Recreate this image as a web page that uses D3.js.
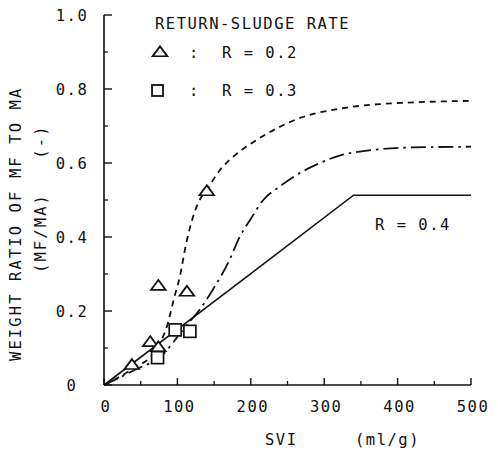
<!DOCTYPE html>
<html><head><meta charset="utf-8">
<script src="https://cdn.jsdelivr.net/npm/d3@7"></script>
<style>
body{margin:0;background:#fff;}
text{font-family:"DejaVu Sans Mono",monospace;font-size:15.5px;fill:#111;letter-spacing:1.5px;white-space:pre;}
</style></head><body>
<svg id="c" width="498" height="451"></svg>
<script>
const xTicks = [0,100,200,300,400,500];
const xMinor = [50,150,250,350,450];
const yTicks = [0,0.2,0.4,0.6,0.8,1.0];
const yTickLabels = ["0","0.2","0.4","0.6","0.8","1.0"];
const yMinor = [0.1,0.3,0.5,0.7,0.9];
const triR02 = [[38,0.052],[63,0.114],[74,0.10],[74,0.266],[113,0.25],[140,0.522]];
const sqR03 = [[73,0.074],[97,0.149],[117,0.145]];
const curveR02 = [[0,0],[40,0.045],[69,0.09],[87,0.167],[96,0.239],[103,0.29],[112,0.383],[128,0.491],[140,0.527],[158,0.581],[176,0.617],[200,0.652],[221,0.678],[266,0.721],[325,0.748],[375,0.759],[500,0.768]];
const curveR03 = [[0,0],[41,0.04],[82,0.086],[100,0.13],[111,0.158],[129,0.20],[148,0.257],[171,0.338],[185,0.401],[199,0.446],[217,0.5],[239,0.536],[266,0.572],[293,0.599],[321,0.620],[361,0.634],[420,0.642],[500,0.644]];
const curveR04 = [[0,0],[171,0.257],[340,0.513],[500,0.513]];

const svg = d3.select("#c");
const x = d3.scaleLinear().domain([0,500]).range([104,471]);
const y = d3.scaleLinear().domain([0,1]).range([385,15]);
const ink = "#111";

// axes
svg.append("line").attr("x1",x(0)).attr("x2",x(0)).attr("y1",y(1)).attr("y2",y(0)).attr("stroke",ink).attr("stroke-width",1.6);
svg.append("line").attr("x1",x(0)).attr("x2",x(500)).attr("y1",y(0)).attr("y2",y(0)).attr("stroke",ink).attr("stroke-width",1.6);
svg.selectAll(".yt").data(yTicks).join("line").attr("x1",x(0)).attr("x2",x(0)+8).attr("y1",d=>y(d)).attr("y2",d=>y(d)).attr("stroke",ink).attr("stroke-width",1.4);
svg.selectAll(".ym").data(yMinor).join("line").attr("x1",x(0)).attr("x2",x(0)+4).attr("y1",d=>y(d)).attr("y2",d=>y(d)).attr("stroke",ink).attr("stroke-width",1.3);
svg.selectAll(".xt").data(xTicks).join("line").attr("x1",d=>x(d)).attr("x2",d=>x(d)).attr("y1",y(0)).attr("y2",y(0)-7).attr("stroke",ink).attr("stroke-width",1.4);
svg.selectAll(".xm").data(xMinor).join("line").attr("x1",d=>x(d)).attr("x2",d=>x(d)).attr("y1",y(0)).attr("y2",y(0)-4).attr("stroke",ink).attr("stroke-width",1.3);

svg.selectAll(".yl").data(yTicks).join("text").attr("x",72).attr("y",d=>y(d)+6).attr("text-anchor","middle").text((d,i)=>yTickLabels[i]);
svg.selectAll(".xl").data(xTicks).join("text").attr("x",d=>x(d)+2).attr("y",412).attr("text-anchor","middle").text(d=>d);

svg.append("text").attr("x",265).attr("y",445).text("SVI");
svg.append("text").attr("x",355).attr("y",445).text("(ml/g)");
svg.append("text").attr("transform","translate(21,361) rotate(-90)").style("letter-spacing","2.1px").text("WEIGHT RATIO OF MF TO MA");
svg.append("text").attr("transform","translate(46,273) rotate(-90)").style("letter-spacing","2.1px").text("(MF/MA)   (-)");

// curves
const lineM = d3.line().x(d=>x(d[0])).y(d=>y(d[1])).curve(d3.curveMonotoneX);
const lineL = d3.line().x(d=>x(d[0])).y(d=>y(d[1]));
svg.append("path").attr("d",lineM(curveR02)).attr("fill","none").attr("stroke",ink).attr("stroke-width",1.8).attr("stroke-dasharray","6,5");
svg.append("path").attr("d",lineM(curveR03)).attr("fill","none").attr("stroke",ink).attr("stroke-width",1.8).attr("stroke-dasharray","15,5,2.5,5");
svg.append("path").attr("d",lineL(curveR04)).attr("fill","none").attr("stroke",ink).attr("stroke-width",1.6);

// markers
const tri = d3.symbol().type(d3.symbolTriangle).size(70);
svg.selectAll(".tri").data(triR02).join("path").attr("d",tri).attr("transform",d=>`translate(${x(d[0])},${y(d[1])}) scale(1.15,0.9)`).attr("fill","#fff").attr("stroke",ink).attr("stroke-width",1.7);
svg.selectAll(".sq").data(sqR03).join("rect").attr("x",d=>x(d[0])-6).attr("y",d=>y(d[1])-6).attr("width",12).attr("height",12).attr("fill","#fff").attr("stroke",ink).attr("stroke-width",1.7);

// legend
svg.append("text").attr("x",155).attr("y",29).text("RETURN-SLUDGE RATE");
svg.append("path").attr("d",tri).attr("transform","translate(160,53) scale(1.15,0.9)").attr("fill","#fff").attr("stroke",ink).attr("stroke-width",1.8);
svg.append("text").attr("x",189).attr("y",58).text(":");
svg.append("text").attr("x",222).attr("y",58).text("R = 0.2");
svg.append("rect").attr("x",152).attr("y",85).attr("width",11).attr("height",11).attr("fill","#fff").attr("stroke",ink).attr("stroke-width",1.8);
svg.append("text").attr("x",189).attr("y",96).text(":");
svg.append("text").attr("x",222).attr("y",96).text("R = 0.3");
svg.append("text").attr("x",375).attr("y",230).text("R = 0.4");
</script>
</body></html>
